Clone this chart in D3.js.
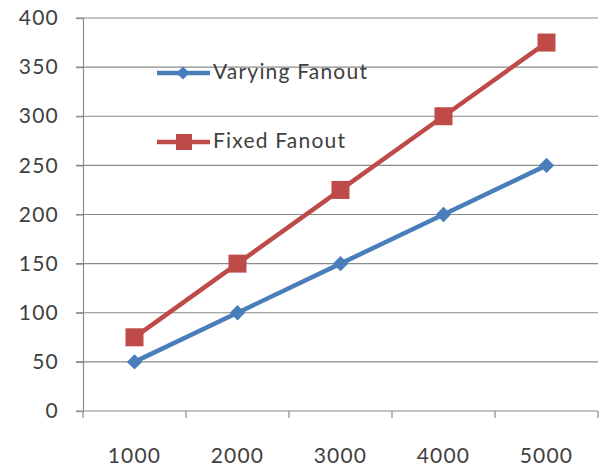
<!DOCTYPE html>
<html>
<head>
<meta charset="utf-8">
<script src="https://cdn.jsdelivr.net/npm/d3@7"></script>
<style>
  html, body { margin: 0; padding: 0; background: #fff; }
  svg { display: block; }
  text { font-family: Lato, "Open Sans", "Liberation Sans", sans-serif; fill: #404040; }
</style>
</head>
<body>
<svg id="chart" width="602" height="467"></svg>
<script>
// Chart data
const categories = ["1000", "2000", "3000", "4000", "5000"];
const varyingFanout = [50, 100, 150, 200, 250];
const fixedFanout = [75, 150, 225, 300, 375];
const yTicks = [0, 50, 100, 150, 200, 250, 300, 350, 400];
const seriesNames = ["Varying Fanout", "Fixed Fanout"];

const blue = "#4A7EBB";
const red = "#BE4B48";
const gridColor = "#8a8a8a";
const fontSize = 21;
const spacing = "1.2px";

const svg = d3.select("#chart");
const plotLeft = 83, plotRight = 598, plotTop = 18, plotBottom = 411;

const x = d3.scaleBand().domain(categories).range([plotLeft, plotRight]).padding(0);
const y = d3.scaleLinear().domain([0, 400]).range([plotBottom, plotTop]);

// Horizontal gridlines (with small outward tick on the left)
svg.append("g").selectAll("line")
  .data(yTicks.filter(v => v > 0))
  .join("line")
  .attr("x1", plotLeft - 7).attr("x2", plotRight)
  .attr("y1", d => y(d)).attr("y2", d => y(d))
  .attr("stroke", gridColor).attr("stroke-width", 1.2);

// Y axis
const yAxis = svg.append("g")
  .attr("transform", `translate(${plotLeft},0)`)
  .call(d3.axisLeft(y).tickValues(yTicks).tickSize(7).tickPadding(17));
yAxis.select(".domain").attr("stroke", gridColor).attr("stroke-width", 1.2);
yAxis.selectAll(".tick line").attr("stroke", gridColor).attr("stroke-width", 1.2);
yAxis.selectAll("text").attr("font-size", fontSize).style("fill", "#404040")
  .style("letter-spacing", spacing)
  .style("font-family", "Lato, 'Open Sans', sans-serif");

// X axis: ticks sit on band boundaries, labels at band centres
const xAxisG = svg.append("g").attr("transform", `translate(0,${plotBottom})`);
xAxisG.append("line")
  .attr("x1", plotLeft - 7).attr("x2", plotRight)
  .attr("stroke", gridColor).attr("stroke-width", 1.2);
const boundaries = categories.map(c => x(c)).concat([x(categories[categories.length - 1]) + x.bandwidth()]);
xAxisG.selectAll("line.bt")
  .data(boundaries)
  .join("line").attr("class", "bt")
  .attr("x1", d => d).attr("x2", d => d)
  .attr("y1", 0).attr("y2", 7)
  .attr("stroke", gridColor).attr("stroke-width", 1.2);
xAxisG.selectAll("text")
  .data(categories)
  .join("text")
  .attr("x", d => x(d) + x.bandwidth() / 2)
  .attr("y", 52)
  .attr("text-anchor", "middle")
  .attr("font-size", fontSize)
  .style("letter-spacing", spacing)
  .text(d => d);

const cx = d => x(d) + x.bandwidth() / 2;
const line = d3.line().x(d => cx(d.c)).y(d => y(d.v));

const vData = categories.map((c, i) => ({ c, v: varyingFanout[i] }));
const fData = categories.map((c, i) => ({ c, v: fixedFanout[i] }));

// Fixed Fanout series
svg.append("path").datum(fData)
  .attr("d", line).attr("fill", "none")
  .attr("stroke", red).attr("stroke-width", 4.5).attr("stroke-linejoin", "round");
svg.append("g").selectAll("rect")
  .data(fData).join("rect")
  .attr("x", d => cx(d.c) - 9).attr("y", d => y(d.v) - 9)
  .attr("width", 18).attr("height", 18)
  .attr("fill", red);

// Varying Fanout series
svg.append("path").datum(vData)
  .attr("d", line).attr("fill", "none")
  .attr("stroke", blue).attr("stroke-width", 4.5).attr("stroke-linejoin", "round");
const diamond = d3.symbol().type(d3.symbolDiamond2).size(150);
svg.append("g").selectAll("path")
  .data(vData).join("path")
  .attr("transform", d => `translate(${cx(d.c)},${y(d.v)})`)
  .attr("d", diamond)
  .attr("fill", blue);

// Legend
const legend = [
  { name: seriesNames[0], color: blue, shape: "diamond", ly: 73 },
  { name: seriesNames[1], color: red, shape: "square", ly: 142 }
];
const lg = svg.append("g");
legend.forEach(d => {
  lg.append("line")
    .attr("x1", 157).attr("x2", 210)
    .attr("y1", d.ly).attr("y2", d.ly)
    .attr("stroke", d.color).attr("stroke-width", 4.5);
  if (d.shape === "diamond") {
    lg.append("path")
      .attr("transform", `translate(183,${d.ly})`)
      .attr("d", d3.symbol().type(d3.symbolDiamond2).size(110))
      .attr("fill", d.color);
  } else {
    lg.append("rect")
      .attr("x", 176).attr("y", d.ly - 8)
      .attr("width", 16).attr("height", 16)
      .attr("fill", d.color);
  }
  lg.append("text")
    .attr("x", 213).attr("y", d.ly + 6)
    .attr("font-size", fontSize)
    .style("letter-spacing", spacing)
    .text(d.name);
});
</script>
</body>
</html>
